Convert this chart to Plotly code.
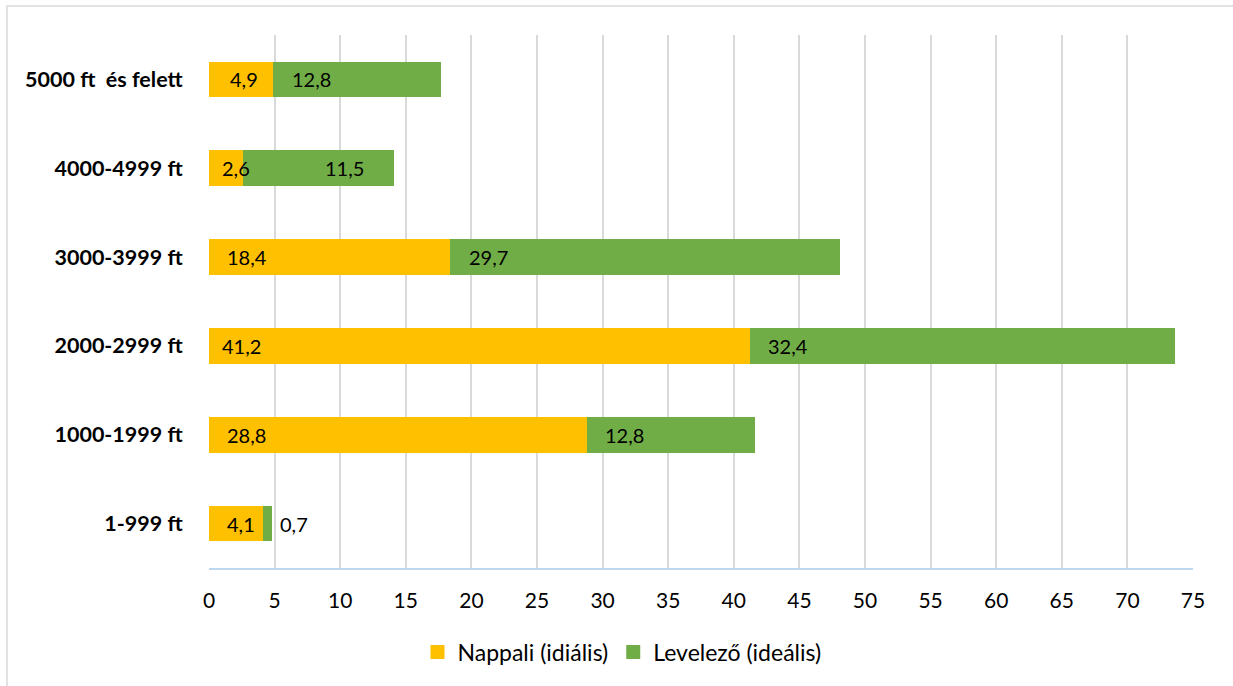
import plotly.graph_objects as go

# Salary bands (bottom to top) and the two series
categories = ["1-999 ft", "1000-1999 ft", "2000-2999 ft", "3000-3999 ft",
              "4000-4999 ft", "5000 ft  és felett"]
nappali = [4.1, 28.8, 41.2, 18.4, 2.6, 4.9]
levelezo = [0.7, 12.8, 32.4, 29.7, 11.5, 12.8]
series_names = ["Nappali (idiális)", "Levelező (ideális)"]
x_ticks = list(range(0, 80, 5))

YELLOW = "#FFC000"
GREEN = "#70AD47"
FONT = "Lato, 'Open Sans', sans-serif"
FS_LABEL = 20
FS_TICK = 21
FS_CAT = 21.5
FS_LEGEND = 23

# label pixel offsets from the segment base (style only)
nappali_pad = [16, 16, 11, 16, 11, 19]
levelezo_pad = [None, 16, 16, 17, 80, 17]
OUTSIDE_PAD = 6

fig = go.Figure()
fig.add_trace(go.Bar(y=categories, x=nappali, orientation="h", name=series_names[0],
                     marker=dict(color=YELLOW, line=dict(width=0)), hoverinfo="x+name",
                     showlegend=False, legendgroup="n"))
fig.add_trace(go.Bar(y=categories, x=levelezo, orientation="h", name=series_names[1],
                     marker=dict(color=GREEN, line=dict(width=0)), hoverinfo="x+name",
                     showlegend=False, legendgroup="l"))

# legend keys as square swatches
for name, color, grp in [(series_names[0], YELLOW, "n"), (series_names[1], GREEN, "l")]:
    fig.add_trace(go.Scatter(x=[None], y=[None], mode="markers", name=name, legendgroup=grp,
                             marker=dict(symbol="square", size=14, color=color),
                             showlegend=True, hoverinfo="skip"))


def fmt(v):
    return f"{v:.1f}".replace(".", ",")


annotations = []
for i, cat in enumerate(categories):
    a, b = nappali[i], levelezo[i]
    annotations.append(dict(x=0, y=cat, xref="x", yref="y", text=fmt(a), showarrow=False,
                            xanchor="left", yanchor="middle", xshift=nappali_pad[i],
                            font=dict(family=FONT, size=FS_LABEL, color="#000")))
    if levelezo_pad[i] is None:
        # too narrow for an inside label: place it after the bar end
        annotations.append(dict(x=a + b, y=cat, xref="x", yref="y", text=fmt(b), showarrow=False,
                                xanchor="left", yanchor="middle", xshift=OUTSIDE_PAD,
                                font=dict(family=FONT, size=FS_LABEL, color="#000")))
    else:
        annotations.append(dict(x=a, y=cat, xref="x", yref="y", text=fmt(b), showarrow=False,
                                xanchor="left", yanchor="middle", xshift=levelezo_pad[i],
                                font=dict(family=FONT, size=FS_LABEL, color="#000")))

L, R, T, B = 209, 40, 35, 118
W, H = 1233, 686
pw, ph = W - L - R, H - T - B

fig.update_layout(
    width=W, height=H,
    barmode="stack", bargap=0.6,
    margin=dict(l=L, r=R, t=T, b=B, pad=0),
    paper_bgcolor="white", plot_bgcolor="white",
    font=dict(family=FONT, size=FS_TICK, color="#000"),
    annotations=annotations,
    showlegend=True,
    legend=dict(orientation="h", x=(622 - L) / pw, xanchor="center",
                y=-(652 - (H - B)) / ph, yanchor="middle",
                font=dict(family=FONT, size=FS_LEGEND, color="#000"),
                itemwidth=30, traceorder="normal", bgcolor="rgba(0,0,0,0)"),
    xaxis=dict(range=[0, 75], tickvals=x_ticks, showgrid=True, gridcolor="#D9D9D9",
               gridwidth=1.5, zeroline=False, showline=True, linecolor="#BDD7EE",
               linewidth=1.5, ticks="outside", ticklen=13, tickcolor="rgba(0,0,0,0)",
               tickfont=dict(family=FONT, size=FS_TICK, color="#000"), fixedrange=True),
    yaxis=dict(categoryorder="array", categoryarray=categories, showgrid=False,
               zeroline=False, showline=False, ticks="outside", ticklen=21,
               tickcolor="rgba(0,0,0,0)",
               tickfont=dict(family=FONT, size=FS_CAT, color="#000", weight="bold"),
               fixedrange=True),
    shapes=[dict(type="rect", xref="paper", yref="paper",
                 x0=(7 - L) / pw, x1=(W + 20 - L) / pw,
                 y0=-(H + 20 - (H - B)) / ph, y1=1 + (T - 6) / ph,
                 line=dict(color="#D9D9D9", width=1.5), fillcolor="rgba(0,0,0,0)",
                 layer="below")],
)

fig.write_html("out.html")
